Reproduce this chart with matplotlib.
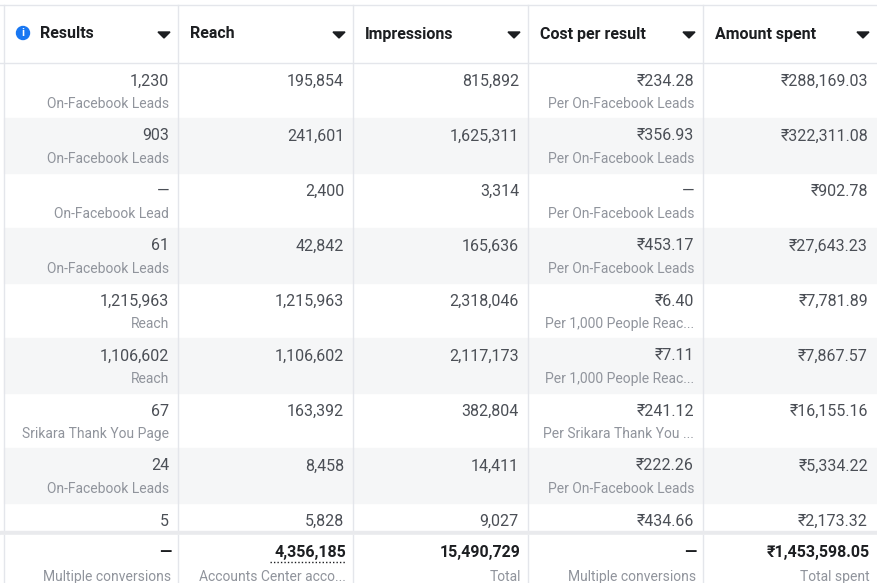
import matplotlib
matplotlib.use("Agg")
import matplotlib.pyplot as plt
from matplotlib.patches import Rectangle, Circle, Polygon

plt.rcParams['font.family'] = ['Roboto', 'DejaVu Sans']

headers = ["Results", "Reach", "Impressions", "Cost per result", "Amount spent"]
results = ["1,230", "903", "—", "61", "1,215,963", "1,106,602", "67", "24", "5"]
results_sub = ["On-Facebook Leads", "On-Facebook Leads", "On-Facebook Lead", "On-Facebook Leads",
               "Reach", "Reach", "Srikara Thank You Page", "On-Facebook Leads", ""]
reach = ["195,854", "241,601", "2,400", "42,842", "1,215,963", "1,106,602", "163,392", "8,458", "5,828"]
impressions = ["815,892", "1,625,311", "3,314", "165,636", "2,318,046", "2,117,173", "382,804", "14,411", "9,027"]
cost = ["₹234.28", "₹356.93", "—", "₹453.17", "₹6.40", "₹7.11", "₹241.12", "₹222.26", "₹434.66"]
cost_sub = ["Per On-Facebook Leads", "Per On-Facebook Leads", "Per On-Facebook Leads", "Per On-Facebook Leads",
            "Per 1,000 People Reac...", "Per 1,000 People Reac...", "Per Srikara Thank You ...",
            "Per On-Facebook Leads", ""]
spent = ["₹288,169.03", "₹322,311.08", "₹902.78", "₹27,643.23", "₹7,781.89", "₹7,867.57",
         "₹16,155.16", "₹5,334.22", "₹2,173.32"]
totals = ["—", "4,356,185", "15,490,729", "—", "₹1,453,598.05"]
totals_sub = ["Multiple conversions", "Accounts Center acco...", "Total", "Multiple conversions", "Total spent"]

W, H = 877, 583
fig = plt.figure(figsize=(W/100, H/100), dpi=100)
ax = fig.add_axes([0, 0, 1, 1])
ax.set_xlim(0, W); ax.set_ylim(H, 0); ax.axis('off')

cols = [4, 178, 353, 528, 703, 877]
line = '#e4e6eb'
dark = '#1c1e21'
grey = '#90949c'
rowh = 55
top = 63

ax.add_patch(Rectangle((0, 0), W, top, color='white', zorder=0))
ax.plot([0, W], [5, 5], color=line, lw=1)
ax.plot([0, W], [top, top], color=line, lw=1)
for i, h in enumerate(headers):
    x0 = cols[i] + (36 if i == 0 else 12)
    ax.text(x0, 34, h, fontsize=11.5, fontweight='bold', color=dark, va='center', ha='left')
    xr = cols[i+1] - 14
    ax.add_patch(Polygon([[xr-6, 32], [xr+6, 32], [xr, 38]], color=dark, zorder=3))
ax.add_patch(Circle((23, 33), 6.5, color='#1877f2', zorder=3))
ax.text(23, 33.5, 'i', fontsize=8, fontweight='bold', color='white', ha='center', va='center', zorder=4)

cols_data = [(results, results_sub), (reach, None), (impressions, None), (cost, cost_sub), (spent, None)]
for r in range(len(results)):
    y0 = top + r * rowh
    if r % 2 == 1:
        ax.add_patch(Rectangle((cols[0], y0), W - cols[0], rowh, color='#f5f6f7', zorder=0))
    for c, (vals, subs) in enumerate(cols_data):
        xr = cols[c+1] - 9
        ax.text(xr, y0 + 18, vals[r], fontsize=11.5, color='#4b4f56', ha='right', va='center')
        if subs is not None and subs[r]:
            ax.text(xr, y0 + 41, subs[r], fontsize=10, color=grey, ha='right', va='center')

for x in cols[:-1]:
    ax.plot([x, x], [5, H], color=line, lw=1, zorder=1)

fy = 535
ax.add_patch(Rectangle((0, fy - 4), W, 4, color='#e9eaed', zorder=2))
ax.add_patch(Rectangle((0, fy), W, H - fy, color='white', zorder=2))
for x in cols[:-1]:
    ax.plot([x, x], [fy, H], color=line, lw=1, zorder=3)
for c in range(5):
    xr = cols[c+1] - 7
    ax.text(xr, fy + 18, totals[c], fontsize=11.5, fontweight='bold', color=dark, ha='right', va='center', zorder=4)
    ax.text(xr, fy + 42, totals_sub[c], fontsize=10, color=grey, ha='right', va='center', zorder=4)
ax.plot([270, 346], [fy + 27, fy + 27], color=dark, lw=1, ls=(0, (1, 1.5)), zorder=4)

fig.savefig('out.png', dpi=100)
